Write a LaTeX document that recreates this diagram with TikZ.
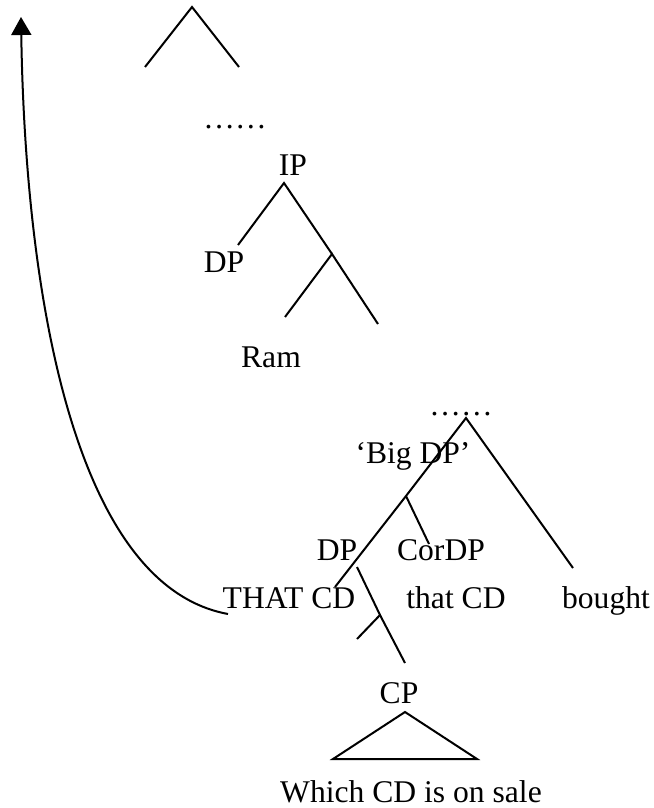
\documentclass[tikz,border=0pt]{standalone}
\usepackage{fontspec}
\setmainfont{Liberation Serif}
\usetikzlibrary{arrows.meta}

\begin{document}
\begin{tikzpicture}[x=0.5pt, y=-0.5pt, line width=1pt,
    every node/.style={inner sep=0pt, anchor=base, font=\fontsize{15.8}{18}\selectfont}]
    \useasboundingbox (0,0) rectangle (653,808);
    % top
    \coordinate (top)  at (192,7);
    \coordinate (topl) at (145,67);
    \coordinate (topr) at (239,67);
    \draw (topl) -- (top) -- (topr);
    \node (dotsa) at (235,128) {……};
    % IP
    \node (ip) at (293,176) {IP};
    \node (dpsubj) at (224,272) {DP};
    \node (ram) at (271,367) {Ram};
    \coordinate (ipa)  at (284,183);
    \coordinate (ipl)  at (238,245);
    \coordinate (ipb)  at (332,254);
    \coordinate (ipbl) at (285,317);
    \coordinate (ipbr) at (378,324);
    \draw (ipl) -- (ipa) -- (ipb);
    \draw (ipbl) -- (ipb) -- (ipbr);
    % Big DP
    \node (dotsb) at (461,415) {……};
    \node (bigdp) at (413,463) {‘Big DP’};
    \node (dp) at (337,560) {DP};
    \node (cordp) at (441,560) {CorDP};
    \node (thatcd) at (289,608) {THAT CD};
    \node (thatcdlow) at (456,608) {that CD};
    \node (bought) at (606,608) {bought};
    \coordinate (bga) at (466,418);
    \coordinate (bgr) at (573,568);
    \coordinate (bgb) at (406,496);
    \coordinate (bgl) at (335,587);
    \coordinate (bgc) at (429,544);
    \draw (bgl) -- (bgb) -- (bga) -- (bgr);
    \draw (bgb) -- (bgc);
    % CP
    \coordinate (cpa)  at (357,567);
    \coordinate (cpb)  at (380,615);
    \coordinate (cpbl) at (357,639);
    \coordinate (cpe)  at (405,663);
    \draw (cpa) -- (cpb) -- (cpe);
    \draw (cpb) -- (cpbl);
    \node (cp) at (399,703) {CP};
    \coordinate (tra) at (405,712);
    \coordinate (trl) at (333,759);
    \coordinate (trr) at (477,759);
    \draw (tra) -- (trl) -- (trr) -- cycle;
    \node (which) at (411,802) {Which CD is on sale};
    % movement
    \coordinate (mva) at (228,614);
    \coordinate (mvb) at (21,17);
    \draw [-{Triangle[length=9pt, width=10pt]}] (mva) .. controls (70,585) and (25,280) .. (mvb);
\end{tikzpicture}
\end{document}
